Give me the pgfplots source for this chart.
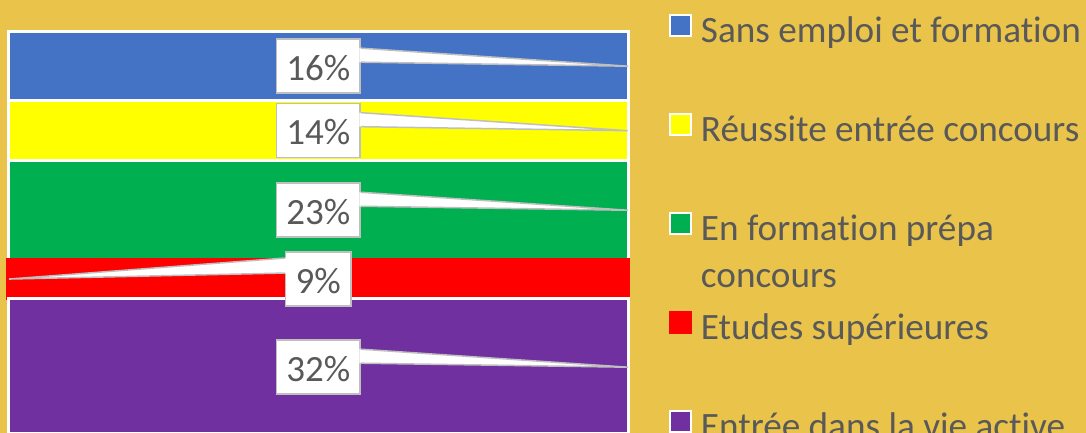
\documentclass[border=0pt]{standalone}
\usepackage{fontspec}
\setmainfont[Ligatures=NoCommon]{Carlito}
\usepackage{pgfplots}
\pgfplotsset{compat=1.18}
\definecolor{bg}{HTML}{EAC44A}
\definecolor{cblue}{HTML}{4472C4}
\definecolor{cyellow}{HTML}{FFFF00}
\definecolor{cgreen}{HTML}{00B050}
\definecolor{cred}{HTML}{FF0000}
\definecolor{cpurple}{HTML}{7030A0}
\definecolor{tgray}{HTML}{595959}
\definecolor{lgray}{HTML}{BFBFBF}
\tikzset{lab/.style={fill=white, draw=lgray, line width=0.75pt, text=tgray,
  font=\fontsize{18.5}{20}\selectfont, inner xsep=5pt, inner ysep=0pt,
  text height=14pt, text depth=0pt, minimum height=27pt}}
\newcommand{\callR}[2]{%
  \fill[white] ([xshift=-0.8pt,yshift=9pt]#1.east) -- (#2) -- ([xshift=-0.8pt,yshift=2pt]#1.east) -- cycle;
  \draw[lgray, line width=0.75pt] ([yshift=9pt]#1.east) -- (#2) -- ([yshift=2pt]#1.east);}
\begin{document}
\begin{tikzpicture}
\useasboundingbox (0,0) rectangle (543pt,-216.5pt);
\fill[bg] (0,0) rectangle (543pt,-216.5pt);
\begin{axis}[
  at={(0,0)}, anchor=north west,
  scale only axis, width=543pt, height=216.5pt,
  xmin=0, xmax=1086, ymin=0.6977, ymax=101.395,
  hide axis,
  ybar stacked,
  bar width=619.5,
  legend style={at={(0.616,0.9688)}, anchor=north west, draw=none, fill=none,
    inner sep=0pt, outer sep=0pt, row sep=31pt, column sep=4.5pt,
    font=\fontsize{18.6}{23.5}\selectfont, text=tgray,
    nodes={inner sep=0pt, text height=12pt, text depth=4pt}},
  legend cell align=left,
  reverse legend,
  legend image code/.code={\draw[#1, line width=1pt] (0pt,-0.5pt) rectangle (10.5pt,10pt);},
]
\addplot[fill=cpurple, draw=white, line width=1.5pt] coordinates {(318.25,32)};
\addplot[fill=cred, draw=cred, line width=1.2pt, bar width=621.5] coordinates {(318.25,9)};
\addplot[fill=cgreen, draw=white, line width=1.5pt] coordinates {(318.25,23)};
\addplot[fill=cyellow, draw=white, line width=1.5pt] coordinates {(318.25,14)};
\addplot[fill=cblue, draw=white, line width=1.5pt] coordinates {(318.25,16)};
\legend{Entrée dans la vie active, Etudes supérieures,
  {\begin{tabular}[t]{@{}l@{}}En formation prépa\\concours\end{tabular}},
  Réussite entrée concours, Sans emploi et formation}
\coordinate (pA) at (axis cs:318.25,86);
\coordinate (pB) at (axis cs:318.25,71);
\coordinate (pC) at (axis cs:318.25,52.5);
\coordinate (pD) at (axis cs:318.25,36.5);
\coordinate (pE) at (axis cs:318.25,16);
\coordinate (tA) at (axis cs:628,86);
\coordinate (tB) at (axis cs:628,71);
\coordinate (tC) at (axis cs:628,52.5);
\coordinate (tD) at (axis cs:9,36.5);
\coordinate (tE) at (axis cs:628,16);
\end{axis}
\node[lab] (nA) at (pA) {16\%};
\node[lab] (nB) at (pB) {14\%};
\node[lab] (nC) at (pC) {23\%};
\node[lab] (nD) at (pD) {9\%};
\node[lab] (nE) at (pE) {32\%};
\callR{nA}{tA}\callR{nB}{tB}\callR{nC}{tC}\callR{nE}{tE}
\fill[white] ([xshift=0.8pt,yshift=10.5pt]nD.west) -- (tD) -- ([xshift=0.8pt,yshift=3pt]nD.west) -- cycle;
\draw[lgray, line width=0.75pt] ([yshift=10.5pt]nD.west) -- (tD) -- ([yshift=3pt]nD.west);
\end{tikzpicture}
\end{document}
